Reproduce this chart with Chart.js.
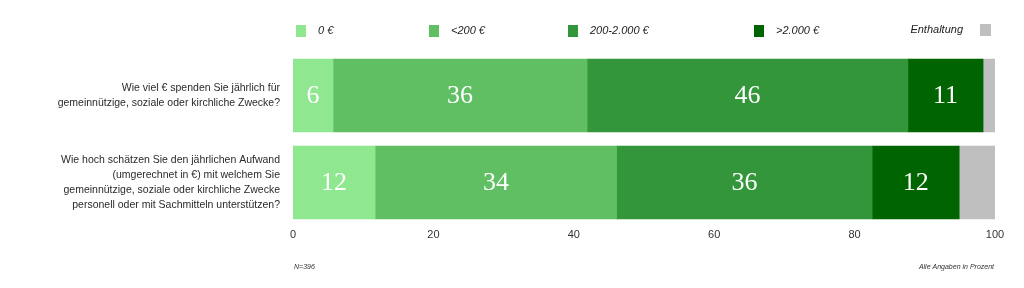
<!DOCTYPE html>
<html>
<head>
<meta charset="utf-8">
<script src="https://cdn.jsdelivr.net/npm/chart.js@4"></script>
<style>
  html, body { margin:0; padding:0; background:#fff; }
  #wrap { position:relative; width:1024px; height:288px; }
</style>
</head>
<body>
<div id="wrap"><canvas id="c" width="1024" height="288"></canvas></div>
<script>
// Data
const questions = [
  ['Wie viel € spenden Sie jährlich für', 'gemeinnützige, soziale oder kirchliche Zwecke?'],
  ['Wie hoch schätzen Sie den jährlichen Aufwand', '(umgerechnet in €) mit welchem Sie', 'gemeinnützige, soziale oder kirchliche Zwecke', 'personell oder mit Sachmitteln unterstützen?']
];
const seriesNames = ['0 €', '<200 €', '200-2.000 €', '>2.000 €', 'Enthaltung'];
const seriesColors = ['#8fe88f', '#5fbf62', '#33963a', '#006400', '#bfbfbf'];
const zero      = [5.7, 11.7];
const under200  = [36.2, 34.4];
const mid       = [45.7, 36.4];
const over2000  = [10.7, 12.4];
const abstain   = [1.7, 5.1];
const xTicks    = [0, 20, 40, 60, 80, 100];

// Layout
const LEFT = 293, RIGHT = 995, TOP = 52, BOTTOM = 226;
const SANS = 'Arial, "Liberation Sans", sans-serif';

const seriesValues = [zero, under200, mid, over2000, abstain];
const datasets = seriesValues.map((vals, i)=>({
  label: seriesNames[i],
  data: vals,
  backgroundColor: seriesColors[i],
  borderWidth: 0,
  barThickness: 73,
  showValue: i < 4
}));

// Werte in die Balken schreiben
const valueLabels = {
  id: 'valueLabels',
  afterDatasetsDraw(chart){
    const ctx = chart.ctx;
    ctx.save();
    ctx.fillStyle = '#ffffff';
    ctx.font = '26px "Liberation Serif", "DejaVu Serif", serif';
    ctx.textAlign = 'center';
    ctx.textBaseline = 'middle';
    chart.data.datasets.forEach((ds, di)=>{
      if (!ds.showValue) return;
      chart.getDatasetMeta(di).data.forEach((bar, i)=>{
        const cx = (bar.x + bar.base) / 2;
        ctx.fillText(String(Math.round(ds.data[i])), cx, bar.y + 1);
      });
    });
    ctx.restore();
  }
};

// Legende + Fußnoten
const extras = {
  id: 'extras',
  afterDraw(chart){
    const ctx = chart.ctx;
    ctx.save();
    ctx.textBaseline = 'middle';
    ctx.font = 'italic 11px ' + SANS;
    const legendY = 31;
    const boxes = [296, 429, 568, 754];
    boxes.forEach((x, i)=>{
      ctx.fillStyle = seriesColors[i];
      ctx.fillRect(x, legendY - 6, 10, 12);
      ctx.fillStyle = '#222';
      ctx.textAlign = 'left';
      ctx.fillText(seriesNames[i], x + 22, legendY);
    });
    ctx.textAlign = 'right';
    ctx.fillStyle = '#222';
    ctx.fillText(seriesNames[4], 963, legendY - 1);
    ctx.fillStyle = seriesColors[4];
    ctx.fillRect(980, legendY - 7, 11, 12);

    ctx.font = 'italic 7px ' + SANS;
    ctx.fillStyle = '#333';
    ctx.textAlign = 'left';
    ctx.fillText('N=396', 294, 267);
    ctx.textAlign = 'right';
    ctx.fillText('Alle Angaben in Prozent', 994, 267);
    ctx.restore();
  }
};

new Chart(document.getElementById('c'), {
  type: 'bar',
  data: { labels: questions, datasets },
  options: {
    indexAxis: 'y',
    responsive: false,
    animation: false,
    layout: { padding: { top: TOP, right: 1024 - RIGHT, left: 0, bottom: 0 } },
    plugins: { legend: { display: false }, tooltip: { enabled: false } },
    scales: {
      x: {
        stacked: true, min: 0, max: 100,
        afterBuildTicks: (s)=>{ s.ticks = xTicks.map(v=>({ value: v })); },
        afterFit: (s)=>{ s.height = 288 - BOTTOM; },
        grid: { display: false, drawTicks: false },
        border: { display: false },
        ticks: { color: '#333', font: { family: SANS, size: 11 }, padding: 2, maxRotation: 0 }
      },
      y: {
        stacked: true,
        afterFit: (s)=>{ s.width = LEFT; },
        grid: { display: false, drawTicks: false },
        border: { display: false },
        ticks: { color: '#2a2a2a', font: { family: SANS, size: 10.5, lineHeight: 1.45 }, padding: 13 }
      }
    }
  },
  plugins: [valueLabels, extras]
});
</script>
</body>
</html>
